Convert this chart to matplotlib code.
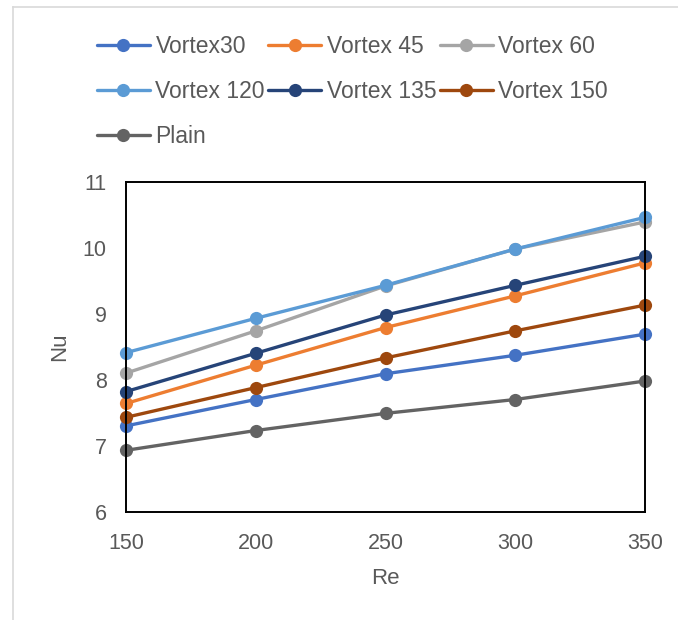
import matplotlib
matplotlib.use("Agg")
import matplotlib.pyplot as plt
from matplotlib.lines import Line2D

plt.rcParams['font.family'] = ['Liberation Sans', 'DejaVu Sans']

re_vals = [150, 200, 250, 300, 350]
series_names = ["Vortex30", "Vortex 45", "Vortex 60", "Vortex 120", "Vortex 135", "Vortex 150", "Plain"]
vortex30 = [7.30, 7.70, 8.09, 8.37, 8.69]
vortex45 = [7.64, 8.22, 8.79, 9.27, 9.77]
vortex60 = [8.10, 8.74, 9.42, 9.98, 10.39]
vortex120 = [8.41, 8.93, 9.43, 9.98, 10.46]
vortex135 = [7.82, 8.40, 8.98, 9.43, 9.87]
vortex150 = [7.43, 7.88, 8.33, 8.74, 9.13]
plain = [6.93, 7.23, 7.49, 7.70, 7.98]
colors = ["#4472C4", "#ED7D31", "#A5A5A5", "#5B9BD5", "#264478", "#9E480E", "#636363"]
x_ticks = [150, 200, 250, 300, 350]
y_ticks = [6, 7, 8, 9, 10, 11]

W, H = 678, 620
fig = plt.figure(figsize=(W / 100, H / 100), dpi=100)
ax = fig.add_axes([126 / W, 1 - 511.7 / H, (645 - 126) / W, (511.7 - 181.7) / H])

data = [vortex30, vortex45, vortex60, vortex120, vortex135, vortex150, plain]
handles = []
for name, vals, c in zip(series_names, data, colors):
    h, = ax.plot(re_vals, vals, color=c, lw=2.4, marker='o', markersize=9.5,
                 markeredgewidth=0, label=name, solid_capstyle='round', clip_on=False)
    handles.append(h)

ax.set_xlim(150, 350)
ax.set_ylim(6, 11)
ax.set_xticks(x_ticks)
ax.set_yticks(y_ticks)
txt = "#595959"
ax.tick_params(length=0, labelsize=15.5, labelcolor=txt)
ax.tick_params(axis='x', pad=15)
ax.tick_params(axis='y', pad=14)
for s in ax.spines.values():
    s.set_color('black')
    s.set_linewidth(1.4)

ax.set_xlabel("Re", fontsize=16, color=txt)
ax.set_ylabel("Nu", fontsize=16, color=txt)
ax.xaxis.set_label_coords(0.5, -0.172)
ax.yaxis.set_label_coords(-0.108, 0.5)

order = [0, 3, 6, 1, 4, 2, 5]
leg = fig.legend([handles[i] for i in order], [series_names[i] for i in order],
                 ncol=3, loc='upper left', bbox_to_anchor=(97 / W, 1 - 35 / H),
                 frameon=False, fontsize=16.5, handlelength=2.3, handletextpad=0.25,
                 columnspacing=0.15, labelspacing=0.96, borderpad=0, borderaxespad=0)
for t in leg.get_texts():
    t.set_color(txt)

fig.add_artist(Line2D([13 / W, 13 / W], [0, 1 - 7 / H], color="#D9D9D9", lw=1.2))
fig.add_artist(Line2D([13 / W, 1], [1 - 7 / H, 1 - 7 / H], color="#D9D9D9", lw=1.2))

fig.savefig("out.png", dpi=100)
